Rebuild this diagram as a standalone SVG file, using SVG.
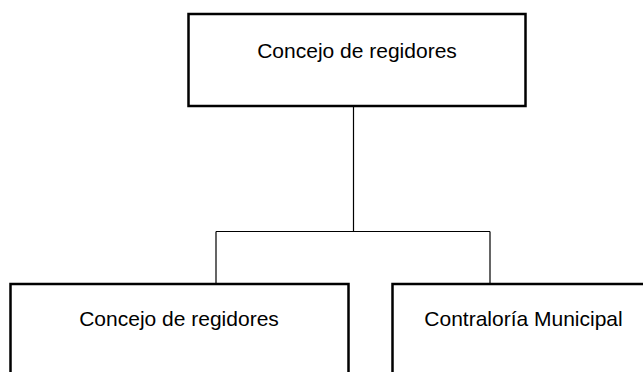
<svg xmlns="http://www.w3.org/2000/svg" width="643" height="372" viewBox="0 0 643 372">
<style>
.box{fill:#fff;stroke:#000;stroke-width:2.5}
.lbl{font-family:"Liberation Sans",Arial,sans-serif;font-size:21px;fill:#000;text-anchor:middle}
.conn{fill:none;stroke:#000;stroke-width:1.2}
</style>
<rect width="643" height="372" fill="#fff"/>
<g id="connectors">
<path class="conn" d="M353.5 106 V231.5 M216 231.5 H490 M216 231.5 V284 M490 231.5 V284"/>
</g>
<g id="node-top">
<rect class="box" x="188.5" y="14" width="337" height="92"/>
<text class="lbl" x="357" y="57.5">Concejo de regidores</text>
</g>
<g id="node-left">
<rect class="box" x="10.5" y="284" width="338" height="120"/>
<text class="lbl" x="179" y="325.5">Concejo de regidores</text>
</g>
<g id="node-right">
<rect class="box" x="392.5" y="284" width="263" height="120"/>
<text class="lbl" x="523.5" y="325.5">Contraloría Municipal</text>
</g>
</svg>
